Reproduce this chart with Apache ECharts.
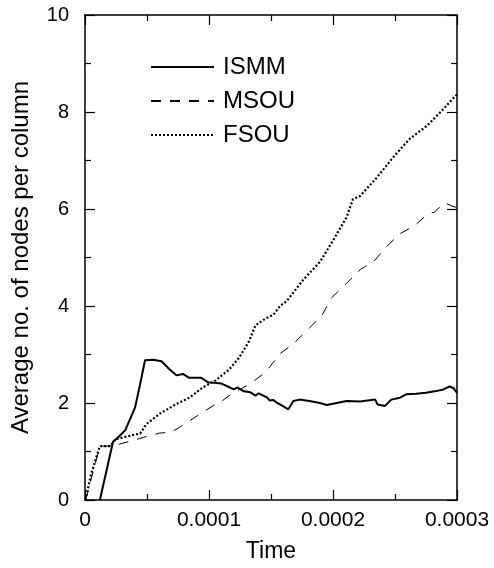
<!DOCTYPE html>
<html>
<head>
<meta charset="utf-8">
<script src="https://cdn.jsdelivr.net/npm/echarts@6/dist/echarts.min.js"></script>
<style>
html,body{margin:0;padding:0;background:#fff;}
#chart{width:494px;height:568px;}
</style>
</head>
<body>
<div id="chart"></div>
<script>
var seriesNames = ['ISMM', 'MSOU', 'FSOU'];
var xTickLabels = ['0', '0.0001', '0.0002', '0.0003'];
var yTickLabels = ['0', '2', '4', '6', '8', '10'];

var ismmTime = [1.2e-5, 2.26e-5, 2.7e-5, 3.25e-5, 4.04e-5, 4.44e-5, 4.84e-5, 5.5e-5, 6.17e-5, 6.83e-5, 7.37e-5, 7.9e-5, 8.4e-5, 9.36e-5, 9.9e-5, 1.03e-4, 1.10e-4, 1.16e-4, 1.20e-4, 1.23e-4, 1.28e-4, 1.335e-4, 1.375e-4, 1.40e-4, 1.47e-4, 1.49e-4, 1.52e-4, 1.55e-4, 1.58e-4, 1.64e-4, 1.68e-4, 1.73e-4, 1.81e-4, 1.895e-4, 1.95e-4, 2.03e-4, 2.11e-4, 2.22e-4, 2.34e-4, 2.36e-4, 2.42e-4, 2.47e-4, 2.54e-4, 2.59e-4, 2.67e-4, 2.75e-4, 2.82e-4, 2.89e-4, 2.94e-4, 2.97e-4, 3.0e-4];
var ismmValue = [0, 1.2, 1.3, 1.44, 1.91, 2.38, 2.88, 2.89, 2.86, 2.69, 2.57, 2.6, 2.52, 2.52, 2.43, 2.42, 2.40, 2.33, 2.28, 2.32, 2.24, 2.22, 2.15, 2.2, 2.11, 2.05, 2.06, 2.0, 1.96, 1.87, 2.04, 2.07, 2.04, 2.0, 1.96, 2.0, 2.04, 2.03, 2.07, 1.97, 1.94, 2.07, 2.11, 2.18, 2.19, 2.21, 2.24, 2.28, 2.34, 2.31, 2.21];

var msouTime = [0.05e-5, 1.2e-5, 2.05e-5, 2.31e-5, 2.58e-5, 3.91e-5, 4.97e-5, 6.04e-5, 6.97e-5, 7.63e-5, 8.96e-5, 1.056e-4, 1.109e-4, 1.189e-4, 1.322e-4, 1.455e-4, 1.574e-4, 1.68e-4, 1.815e-4, 1.909e-4, 1.989e-4, 2.11e-4, 2.22e-4, 2.34e-4, 2.43e-4, 2.54e-4, 2.66e-4, 2.76e-4, 2.82e-4, 2.90e-4, 2.96e-4, 3.0e-4];
var msouValue = [0, 1.11, 1.11, 1.17, 1.14, 1.23, 1.31, 1.38, 1.40, 1.50, 1.72, 1.98, 2.05, 2.2, 2.38, 2.63, 3.02, 3.22, 3.56, 3.80, 4.17, 4.47, 4.75, 4.95, 5.22, 5.49, 5.66, 5.89, 5.94, 6.13, 6.06, 6.03];

var fsouTime = [0.05e-5, 0.45e-5, 0.85e-5, 1.2e-5, 2.05e-5, 2.45e-5, 3.38e-5, 4.44e-5, 4.97e-5, 6.04e-5, 7.37e-5, 8.43e-5, 9.49e-5, 1.056e-4, 1.162e-4, 1.242e-4, 1.322e-4, 1.375e-4, 1.455e-4, 1.519e-4, 1.574e-4, 1.626e-4, 1.76e-4, 1.895e-4, 2.0e-4, 2.11e-4, 2.16e-4, 2.22e-4, 2.35e-4, 2.49e-4, 2.62e-4, 2.76e-4, 2.89e-4, 2.96e-4, 3.0e-4];
var fsouValue = [0, 0.49, 0.83, 1.11, 1.11, 1.25, 1.31, 1.37, 1.57, 1.78, 1.98, 2.11, 2.32, 2.47, 2.69, 2.93, 3.27, 3.6, 3.74, 3.82, 4.0, 4.10, 4.54, 4.91, 5.35, 5.83, 6.2, 6.27, 6.64, 7.08, 7.45, 7.72, 8.06, 8.26, 8.36];

function pairs(xs, ys) { return xs.map(function (x, i) { return [x, ys[i]]; }); }

var FONT = '"Liberation Sans", Arial, Helvetica, sans-serif';
var axisLineStyle = { color: '#000', width: 1.5 };

function xAxisCfg(pos, showLabels) {
  return {
    type: 'value', position: pos, min: 0, max: 0.0003, interval: 0.0001,
    name: showLabels ? 'Time' : '', nameLocation: 'middle', nameGap: 40,
    nameTextStyle: { fontFamily: FONT, fontSize: 23, color: '#000' },
    axisLine: { show: true, onZero: false, lineStyle: axisLineStyle },
    axisTick: { show: true, inside: true, length: 10, lineStyle: { color: '#000', width: 1.2 } },
    minorTick: { show: true, splitNumber: 2, length: 6, lineStyle: { color: '#000', width: 1.2 } },
    splitLine: { show: false },
    axisLabel: {
      show: showLabels, margin: 10, fontFamily: FONT, fontSize: 21, color: '#000',
      formatter: function (v) { return xTickLabels[Math.round(v / 0.0001)]; }
    }
  };
}
function yAxisCfg(pos, showLabels) {
  return {
    type: 'value', position: pos, min: 0, max: 10, interval: 2,
    name: showLabels ? 'Average no. of nodes per column' : '', nameLocation: 'middle', nameGap: 52,
    nameTextStyle: { fontFamily: FONT, fontSize: 24, color: '#000' },
    axisLine: { show: true, onZero: false, lineStyle: axisLineStyle },
    axisTick: { show: true, inside: true, length: 10, lineStyle: { color: '#000', width: 1.2 } },
    minorTick: { show: true, splitNumber: 2, length: 6, lineStyle: { color: '#000', width: 1.2 } },
    splitLine: { show: false },
    axisLabel: {
      show: showLabels, margin: 16, fontFamily: FONT, fontSize: 20, color: '#000',
      formatter: function (v) { return yTickLabels[Math.round(v / 2)]; }
    }
  };
}

var chart = echarts.init(document.getElementById('chart'), null, { renderer: 'canvas' });
chart.setOption({
  animation: false,
  backgroundColor: '#fff',
  grid: { left: 85, right: 37, top: 15, bottom: 60 },
  xAxis: [xAxisCfg('bottom', true), xAxisCfg('top', false)],
  yAxis: [yAxisCfg('left', true), yAxisCfg('right', false)],
  legend: {
    orient: 'vertical', left: 145, top: 50, itemWidth: 63, itemHeight: 2, itemGap: 10,
    data: seriesNames,
    itemStyle: { opacity: 0 },
    textStyle: { fontFamily: FONT, fontSize: 24, color: '#000', padding: [0, 0, 0, 4], lineHeight: 24 }
  },
  series: [
    { name: seriesNames[0], type: 'line', data: pairs(ismmTime, ismmValue), showSymbol: false, symbol: 'none',
      lineStyle: { color: '#000', width: 2, type: 'solid' }, itemStyle: { color: '#000' } },
    { name: seriesNames[1], type: 'line', data: pairs(msouTime, msouValue), showSymbol: false, symbol: 'none',
      lineStyle: { color: '#000', width: 1, type: [10, 9] }, itemStyle: { color: '#000' } },
    { name: seriesNames[2], type: 'line', data: pairs(fsouTime, fsouValue), showSymbol: false, symbol: 'none',
      lineStyle: { color: '#000', width: 2.2, type: [2, 2] }, itemStyle: { color: '#000' } }
  ]
});
</script>
</body>
</html>
